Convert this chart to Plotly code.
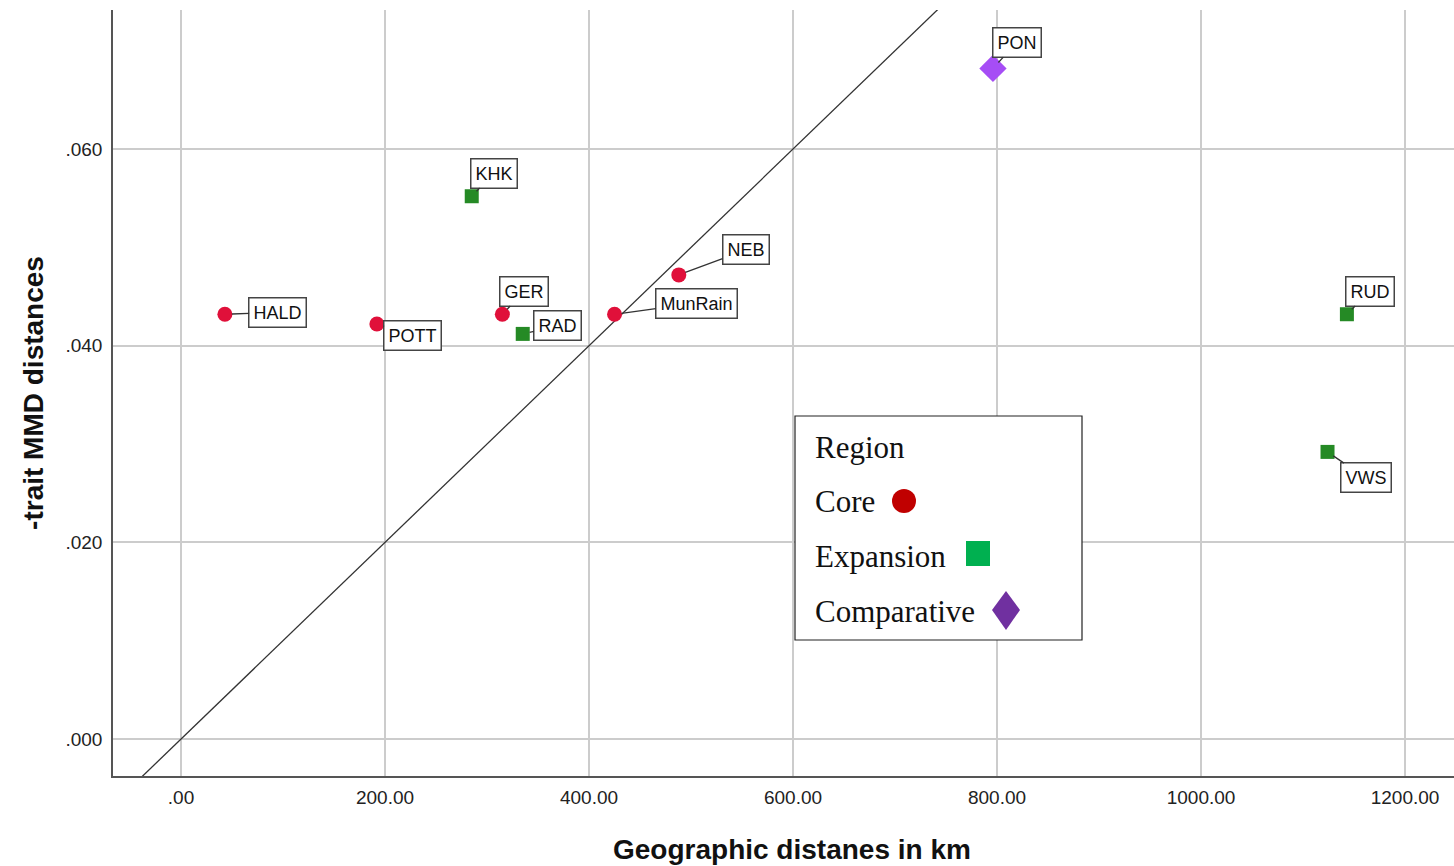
import plotly.graph_objects as go

# Sample sites: geographic distance (km) vs. MMD distance
core_names = ["HALD", "POTT", "GER", "MunRain", "NEB"]
core_km = [43, 192, 315, 425, 488]
core_mmd = [0.0432, 0.0422, 0.0432, 0.0432, 0.0472]

exp_names = ["KHK", "RAD", "RUD", "VWS"]
exp_km = [285, 335, 1143, 1124]
exp_mmd = [0.0552, 0.0412, 0.0432, 0.0292]

comp_names = ["PON"]
comp_km = [796]
comp_mmd = [0.0682]

# Reference line y = 0.0001 * x
ref_x = [-100, 1300]
ref_slope = 0.0001

x_ticks = [0, 200, 400, 600, 800, 1000, 1200]
x_ticktext = [".00", "200.00", "400.00", "600.00", "800.00", "1000.00", "1200.00"]
y_ticks = [0.0, 0.02, 0.04, 0.06]
y_ticktext = [".000", ".020", ".040", ".060"]

# Label offsets (pixels) of each site's boxed label
label_offsets = {
    "HALD": (53, -2), "POTT": (36, 11), "GER": (22, -23), "MunRain": (82, -11),
    "NEB": (67, -25), "KHK": (22, -23), "RAD": (35, -8), "RUD": (23, -23),
    "VWS": (38, 26), "PON": (24, -26),
}

W, H = 1454, 866
ML, MR, MT, MB = 113, 0, 10, 90
PW, PH = W - ML - MR, H - MT - MB


def px(xp):
    return (xp - ML) / PW


def py(yp):
    return (H - MB - yp) / PH


fig = go.Figure()

fig.add_trace(go.Scatter(
    x=ref_x, y=[ref_slope * v for v in ref_x], mode="lines",
    line=dict(color="#333333", width=1.3), showlegend=False, hoverinfo="skip"))

fig.add_trace(go.Scatter(
    x=core_km, y=core_mmd, mode="markers", showlegend=False,
    marker=dict(symbol="circle", size=15, color="#E0103A")))
fig.add_trace(go.Scatter(
    x=exp_km, y=exp_mmd, mode="markers", showlegend=False,
    marker=dict(symbol="square", size=14, color="#258A25")))
fig.add_trace(go.Scatter(
    x=comp_km, y=comp_mmd, mode="markers", showlegend=False,
    marker=dict(symbol="diamond", size=21, color="#A64DF5")))

annotations = []
for names, xs, ys, so in [(core_names, core_km, core_mmd, 7),
                          (exp_names, exp_km, exp_mmd, 7),
                          (comp_names, comp_km, comp_mmd, 8)]:
    for n, xv, yv in zip(names, xs, ys):
        ax, ay = label_offsets[n]
        annotations.append(dict(
            x=xv, y=yv, xref="x", yref="y", text=n, showarrow=True,
            arrowhead=0, arrowwidth=1.3, arrowcolor="#333333",
            ax=ax, ay=ay, standoff=so,
            font=dict(family="Liberation Sans, Arial", size=18, color="#111111"),
            bordercolor="#444444", borderwidth=1.5, borderpad=4,
            bgcolor="white"))

# X axis title
annotations.append(dict(
    x=px(792), y=py(849), xref="paper", yref="paper",
    text="<b>Geographic distanes in km</b>", showarrow=False,
    xanchor="center", yanchor="middle",
    font=dict(family="Liberation Sans, Arial", size=28, color="#111111")))

# Legend panel
serif = dict(family="Liberation Serif, Times New Roman", size=31, color="#111111")
legend_rows = [("Region", 447), ("Core", 501), ("Expansion", 556), ("Comparative", 611)]
for txt, yc in legend_rows:
    annotations.append(dict(
        x=px(813), y=py(yc), xref="paper", yref="paper", text=txt,
        showarrow=False, xanchor="left", yanchor="middle", font=serif))

shapes = [
    dict(type="rect", xref="paper", yref="paper",
         x0=px(795), x1=px(1082), y0=py(640), y1=py(416),
         line=dict(color="#222222", width=1.2), fillcolor="white", layer="above"),
    dict(type="circle", xref="paper", yref="paper",
         x0=px(892), x1=px(916), y0=py(513), y1=py(489),
         line=dict(width=0), fillcolor="#C00000", layer="above"),
    dict(type="rect", xref="paper", yref="paper",
         x0=px(966), x1=px(990), y0=py(566), y1=py(541),
         line=dict(width=0), fillcolor="#00B050", layer="above"),
    dict(type="path", xref="paper", yref="paper",
         path=f"M {px(1006)},{py(591)} L {px(1020)},{py(610)} L {px(1006)},{py(630)} "
              f"L {px(992)},{py(610)} Z",
         line=dict(width=0), fillcolor="#7030A0", layer="above"),
]

fig.update_layout(
    width=W, height=H,
    margin=dict(l=ML, r=MR, t=MT, b=MB),
    paper_bgcolor="white", plot_bgcolor="white",
    annotations=annotations, shapes=shapes,
    font=dict(family="Liberation Sans, Arial", color="#222222"),
    xaxis=dict(
        range=[-66.7, 1248], tickvals=x_ticks, ticktext=x_ticktext,
        showgrid=True, gridcolor="#CCCCCC", gridwidth=1.5, zeroline=False,
        showline=True, linecolor="#555555", linewidth=1.5, ticks="",
        tickfont=dict(size=19, color="#222222"), ticklabelstandoff=3,
    ),
    yaxis=dict(
        range=[-0.00376, 0.07414], tickvals=y_ticks, ticktext=y_ticktext,
        showgrid=True, gridcolor="#CCCCCC", gridwidth=1.5, zeroline=False,
        showline=True, linecolor="#555555", linewidth=1.5, ticks="",
        tickfont=dict(size=19, color="#222222"), ticklabelstandoff=5,
        title=dict(text="<b>-trait MMD distances</b>",
                   font=dict(size=28, color="#111111"), standoff=14),
    ),
)

fig.write_html("out.html")
